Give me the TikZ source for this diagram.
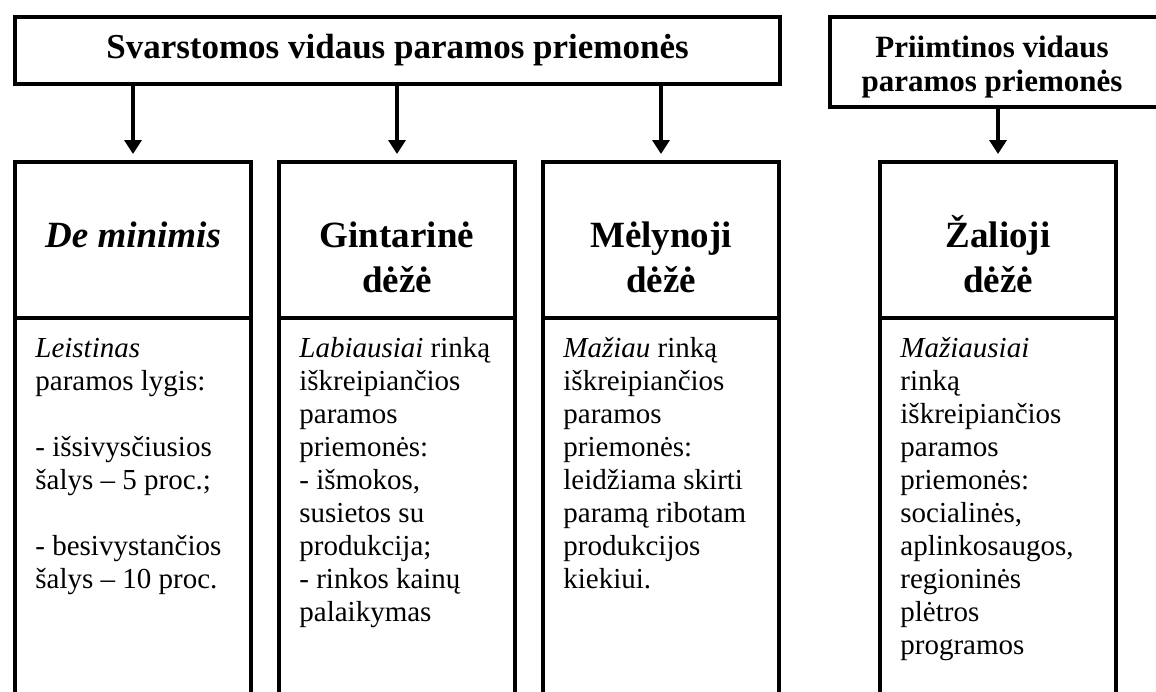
\documentclass[tikz,border=0pt]{standalone}
\usepackage{fontspec}
\setmainfont{Liberation Serif}
\usetikzlibrary{arrows.meta,positioning}

\begin{document}
\begin{tikzpicture}[x=0.5pt,y=-0.5pt,
  box/.style={draw,line width=2pt,rectangle,outer sep=0pt,inner sep=0pt},
  headbox/.style={box,minimum width=118pt,minimum height=78pt},
  bodybox/.style={box,minimum width=118pt,minimum height=206pt},
  headtext/.style={font=\fontsize{18.5}{22.5}\selectfont\bfseries,anchor=base,inner sep=0pt},
  bodytext/.style={font=\fontsize{14.5}{16.5}\selectfont,anchor=base west,inner sep=0pt},
  arr/.style={line width=2pt,-{Triangle[width=8.5pt,length=7pt]},shorten >=4pt}]

\useasboundingbox (0,0) rectangle (1156,691);
\clip (0,0) rectangle (1156,691);

% Top boxes
\node[box,minimum width=382.5pt,minimum height=33.5pt,
  font=\fontsize{17.5}{21}\selectfont\bfseries] (svar) at (397.5,50.5)
  {Svarstomos vidaus paramos priemonės};
\node[box,minimum width=165pt,minimum height=45pt] (priim) at (995,62) {};
\node[font=\fontsize{15.5}{17}\selectfont\bfseries,anchor=base,inner sep=0pt]
  (priimT) at ([xshift=-1.5pt,yshift=-20pt]priim.north)
  {\begin{tabular}[t]{@{}c@{}}Priimtinos vidaus\\paramos priemonės\end{tabular}};

% Box heads
\node[headbox] (dmH) at (133,240) {};
\node[headbox] (gintH) at (397,240) {};
\node[headbox] (melH) at (661,240) {};
\node[headbox] (zalH) at (998,240) {};

% Box bodies
\node[bodybox,below=0pt of dmH] (dmB) {};
\node[bodybox,below=0pt of gintH] (gintB) {};
\node[bodybox,below=0pt of melH] (melB) {};
\node[bodybox,below=0pt of zalH] (zalB) {};

% Arrows
\draw[arr] (svar.south -| dmH.north) -- (dmH.north);
\draw[arr] (svar.south -| gintH.north) -- (gintH.north);
\draw[arr] (svar.south -| melH.north) -- (melH.north);
\draw[arr] (priim.south -| zalH.north) -- (zalH.north);

% Head labels
\node[headtext] (dmT) at ([yshift=-42.5pt]dmH.north) {\textit{De minimis}};
\node[headtext] (gintT) at ([yshift=-42.5pt]gintH.north)
  {\begin{tabular}[t]{@{}c@{}}Gintarinė\\dėžė\end{tabular}};
\node[headtext] (melT) at ([yshift=-42.5pt]melH.north)
  {\begin{tabular}[t]{@{}c@{}}Mėlynoji\\dėžė\end{tabular}};
\node[headtext] (zalT) at ([yshift=-42.5pt]zalH.north)
  {\begin{tabular}[t]{@{}c@{}}Žalioji\\dėžė\end{tabular}};

% Body texts
\node[bodytext] (dmL) at ([xshift=10pt,yshift=-19.5pt]dmB.north west)
  {\begin{tabular}[t]{@{}l@{}}\textit{Leistinas}\\paramos lygis:\\[16.5pt]- išsivysčiusios\\šalys -- 5 proc.;\\[16.5pt]- besivystančios\\šalys -- 10 proc.\end{tabular}};
\node[bodytext] (gintL) at ([xshift=10pt,yshift=-19.5pt]gintB.north west)
  {\begin{tabular}[t]{@{}l@{}}\textit{Labiausiai} rinką\\iškreipiančios\\paramos\\priemonės:\\- išmokos,\\susietos su\\produkcija;\\- rinkos kainų\\palaikymas\end{tabular}};
\node[bodytext] (melL) at ([xshift=10pt,yshift=-19.5pt]melB.north west)
  {\begin{tabular}[t]{@{}l@{}}\textit{Mažiau} rinką\\iškreipiančios\\paramos\\priemonės:\\leidžiama skirti\\paramą ribotam\\produkcijos\\kiekiui.\end{tabular}};
\node[bodytext] (zalL) at ([xshift=10pt,yshift=-19.5pt]zalB.north west)
  {\begin{tabular}[t]{@{}l@{}}\textit{Mažiausiai}\\rinką\\iškreipiančios\\paramos\\priemonės:\\socialinės,\\aplinkosaugos,\\regioninės\\plėtros\\programos\end{tabular}};

\end{tikzpicture}
\end{document}
